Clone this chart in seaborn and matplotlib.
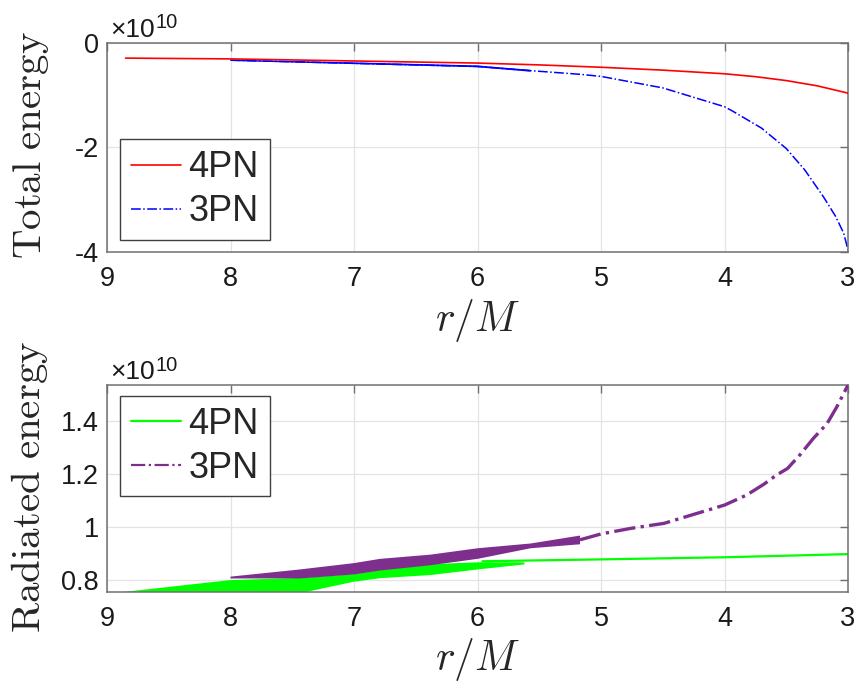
import matplotlib
matplotlib.use("Agg")
import matplotlib.pyplot as plt
import numpy as np
import pandas as pd
import seaborn as sns

# ---------------- data (energies in units of 1e10) ----------------
# Top panel: total energy vs r/M
tot4_r = [8.85, 8.0, 7.0, 6.0, 5.5, 5.0, 4.5, 4.0, 3.75, 3.5, 3.25, 3.0]
tot4_E = [-0.29, -0.305, -0.345, -0.385, -0.42, -0.465, -0.52, -0.59, -0.645, -0.72, -0.82, -0.96]

tot3_r = [8.0, 7.0, 6.0, 5.57, 5.17, 5.0, 4.5, 4.25, 4.0, 3.93, 3.7, 3.5, 3.35, 3.2, 3.1, 3.035, 3.0]
tot3_E = [-0.33, -0.39, -0.45, -0.53, -0.60, -0.64, -0.86, -1.04, -1.22, -1.31, -1.63, -2.02,
          -2.43, -2.94, -3.32, -3.64, -3.96]

# early oscillating part of the 3PN total energy (band outline)
tot3_band_r = [8.0, 7.0, 6.0, 5.57, 5.57, 6.0, 7.0, 8.0]
tot3_band_E = [-0.32, -0.372, -0.43, -0.515, -0.55, -0.465, -0.405, -0.345]

# Bottom panel: radiated energy vs r/M
# oscillating (eccentric) phase, band outlines: upper-left edge then lower-right edge
rad4_band_r = [8.85, 8.0, 7.44, 7.0, 6.79, 6.38, 6.0, 5.62, 5.62, 6.0, 6.38, 6.79, 7.0, 7.44, 8.85]
rad4_band_E = [0.756, 0.800, 0.808, 0.822, 0.838, 0.860, 0.867, 0.867, 0.859, 0.840, 0.819, 0.807, 0.794, 0.750, 0.750]
rad3_band_r = [8.0, 7.44, 7.0, 6.79, 6.38, 6.0, 5.57, 5.17, 5.17, 5.57, 6.0, 6.38, 6.79, 7.0, 7.44, 8.0]
rad3_band_E = [0.813, 0.840, 0.864, 0.880, 0.896, 0.920, 0.938, 0.968, 0.935, 0.920, 0.880, 0.856, 0.836, 0.821, 0.806, 0.806]
# circularised phase
rad4_r = [5.96, 5.0, 4.0, 3.0]
rad4_E = [0.871, 0.878, 0.886, 0.898]
rad3_r = [5.17, 5.0, 4.76, 4.49, 4.22, 4.0, 3.82, 3.68, 3.58, 3.49, 3.39, 3.28, 3.17, 3.09, 3.0]
rad3_E = [0.952, 0.974, 0.995, 1.014, 1.052, 1.083, 1.121, 1.162, 1.196, 1.221, 1.272, 1.335,
          1.39, 1.454, 1.536]

series_labels = ["4PN", "3PN"]
x_ticks = [9, 8, 7, 6, 5, 4, 3]
top_yticks = [-4, -2, 0]
top_yticklabels = ["-4", "-2", "0"]
bot_yticks = [0.8, 1.0, 1.2, 1.4]
bot_yticklabels = ["0.8", "1", "1.2", "1.4"]
offset_label = ("\u00d710", "10")

# ---------------- style ----------------
sns.set_style("white")
plt.rcParams["font.family"] = ["Liberation Sans", "DejaVu Sans"]
plt.rcParams["mathtext.fontset"] = "cm"

RED = "#ff0000"
BLUE = "#0000ff"
GREEN = "#00ff00"
PURPLE = "#7e2f8e"
SPINE = "#707070"

fig = plt.figure(figsize=(8.61, 6.84), dpi=100)
ax1 = fig.add_axes([0.1243, 0.6316, 0.8606, 0.3056])
ax2 = fig.add_axes([0.1243, 0.1349, 0.8606, 0.3022])


def style_axes(ax, yticks, yticklabels, ylim):
    ax.set_xlim(9, 3)
    ax.set_ylim(*ylim)
    ax.set_xticks(x_ticks)
    ax.set_xticklabels([str(t) for t in x_ticks])
    ax.set_yticks(yticks)
    ax.set_yticklabels(yticklabels)
    ax.grid(True, color="#e3e3e3", lw=0.9)
    ax.set_axisbelow(True)
    for s in ax.spines.values():
        s.set_visible(True)
        s.set_color(SPINE)
        s.set_linewidth(1.1)
    ax.tick_params(direction="in", top=True, right=True, length=6, width=1.0,
                   color=SPINE, labelsize=19.5, labelcolor="#1a1a1a")
    ax.tick_params(axis="x", pad=10)
    ax.tick_params(axis="y", pad=6)
    ax.set_xlabel(r"$r/M$", fontsize=30)
    ax.xaxis.set_label_coords(0.5, -0.215)
    ax.text(0.004, 1.03, offset_label[0], transform=ax.transAxes, fontsize=19,
            ha="left", va="baseline", color="#1a1a1a")
    ax.text(0.0655, 1.07, offset_label[1], transform=ax.transAxes, fontsize=14.5,
            ha="left", va="baseline", color="#1a1a1a")


def make_legend(ax, **kw):
    leg = ax.legend(borderaxespad=0, fontsize=26, frameon=True, fancybox=False,
                    framealpha=1, edgecolor="#404040", handlelength=1.4,
                    handletextpad=0.2, borderpad=0.3, labelspacing=0.25, **kw)
    leg.get_frame().set_linewidth(1.0)
    return leg


# ---------------- top panel ----------------
ax1.fill(tot3_band_r, tot3_band_E, color=BLUE, lw=0, zorder=2)
sns.lineplot(x=tot4_r, y=tot4_E, sort=False, estimator=None, color=RED, lw=1.2,
             label=series_labels[0], ax=ax1, zorder=3)
sns.lineplot(x=tot3_r, y=tot3_E, sort=False, estimator=None, color=BLUE, lw=1.1,
             linestyle="-.", label=series_labels[1], ax=ax1, zorder=2)
style_axes(ax1, top_yticks, top_yticklabels, (-4, 0))
ax1.set_ylabel(r"$\mathrm{Total\ energy}$", fontsize=29.5)
ax1.yaxis.set_label_coords(-0.075, 0.51)
make_legend(ax1, loc="lower left", bbox_to_anchor=(0.0175, 0.057))

# ---------------- bottom panel ----------------
ax2.fill(rad4_band_r, rad4_band_E, color=GREEN, lw=0, zorder=2)
ax2.fill(rad3_band_r, rad3_band_E, color=PURPLE, lw=0, zorder=3)
sns.lineplot(x=rad4_r, y=rad4_E, sort=False, estimator=None, color=GREEN, lw=1.6,
             label=series_labels[0], ax=ax2, zorder=2)
sns.lineplot(x=rad3_r, y=rad3_E, sort=False, estimator=None, color=PURPLE, lw=2.4,
             linestyle="-.", label=series_labels[1], ax=ax2, zorder=3)
style_axes(ax2, bot_yticks, bot_yticklabels, (0.756, 1.536))
ax2.set_ylabel(r"$\mathrm{Radiated\ energy}$", fontsize=29.5)
ax2.yaxis.set_label_coords(-0.077, 0.507)
leg = make_legend(ax2, loc="upper left", bbox_to_anchor=(0.0175, 0.948))
for line in leg.get_lines():
    line.set_linewidth(1.6)

fig.savefig("out.png", dpi=100)
